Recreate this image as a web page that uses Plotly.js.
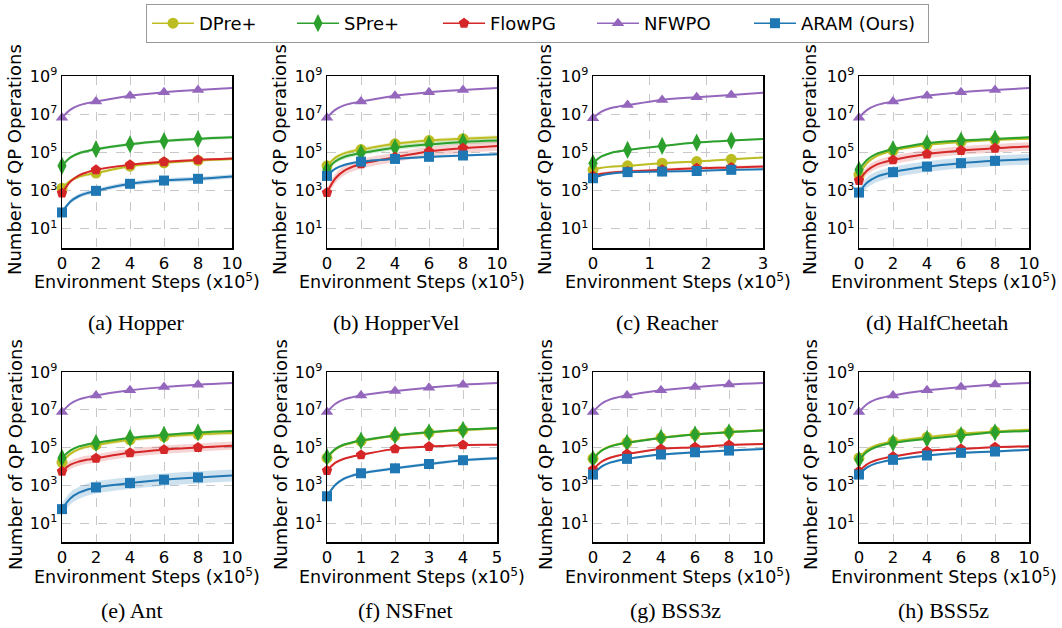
<!DOCTYPE html>
<html><head><meta charset="utf-8">
<script src="https://cdn.plot.ly/plotly-3.0.1.min.js"></script>
<style>body{margin:0;background:#fff}</style>
</head><body><div id="chart" style="width:1062px;height:628px"></div>
<script>
// ---------- series definitions ----------
const seriesNames = ['DPre+', 'SPre+', 'FlowPG', 'NFWPO', 'ARAM (Ours)'];
const seriesColors = ['#bcbd22', '#2ca02c', '#d62728', '#9467bd', '#1f77b4'];
const seriesFills = ['rgba(188,189,34,0.22)', 'rgba(44,160,44,0.22)', 'rgba(214,39,40,0.2)', 'rgba(148,103,189,0.2)', 'rgba(31,119,180,0.22)'];
const seriesSymbols = ['circle', 'diamond-tall', 'pentagon', 'triangle-up', 'square'];
const seriesSizes = [11, 13, 11, 11, 10];
const legendEntryWidths = [88, 89, 97, 100, 122];

// ---------- x sample positions (x1e5 environment steps) ----------
const xSteps10 = [0, 0.5, 1, 1.5, 2, 4, 6, 8, 10];
const xStepsReacher = [0, 0.15, 0.3, 0.46, 0.61, 1.22, 1.83, 2.44, 3];
const xStepsNSF = [0, 0.25, 0.5, 0.75, 1, 2, 3, 4, 5];
const markerIdx = [0, 4, 5, 6, 7];
const xTicks10 = [0, 2, 4, 6, 8, 10];
const xTicksReacher = [0, 1, 2, 3];
const xTicksNSF = [0, 1, 2, 3, 4, 5];
const yTickVals = [1e1, 1e3, 1e5, 1e7, 1e9];
const yTickText = ['10<sup>1</sup>', '10<sup>3</sup>', '10<sup>5</sup>', '10<sup>7</sup>', '10<sup>9</sup>'];

// ---------- values: log10(number of QP operations), order DPre+, SPre+, FlowPG, NFWPO, ARAM ----------
const logHopper = [
  [3.13, 3.53, 3.73, 3.84, 3.92, 4.28, 4.46, 4.58, 4.66],
  [4.30, 4.74, 4.96, 5.08, 5.17, 5.43, 5.60, 5.71, 5.79],
  [2.87, 3.48, 3.80, 3.97, 4.09, 4.35, 4.51, 4.61, 4.68],
  [6.82, 7.24, 7.46, 7.58, 7.66, 7.97, 8.15, 8.27, 8.37],
  [1.86, 2.43, 2.72, 2.88, 2.99, 3.36, 3.53, 3.62, 3.74]
];
const logHopperVel = [
  [4.30, 4.73, 4.95, 5.07, 5.15, 5.45, 5.62, 5.72, 5.80],
  [4.10, 4.54, 4.76, 4.88, 4.97, 5.25, 5.42, 5.55, 5.62],
  [2.90, 3.65, 4.04, 4.25, 4.40, 4.75, 5.05, 5.22, 5.34],
  [6.82, 7.24, 7.46, 7.58, 7.66, 7.97, 8.15, 8.27, 8.37],
  [3.77, 4.15, 4.34, 4.45, 4.52, 4.66, 4.77, 4.84, 4.91]
];
const logReacher = [
  [4.09, 4.20, 4.25, 4.28, 4.30, 4.44, 4.52, 4.64, 4.73],
  [4.44, 4.79, 4.96, 5.06, 5.13, 5.34, 5.52, 5.62, 5.71],
  [3.77, 3.89, 3.94, 3.98, 4.00, 4.09, 4.17, 4.21, 4.26],
  [6.79, 7.14, 7.31, 7.41, 7.48, 7.75, 7.89, 8.01, 8.13],
  [3.65, 3.81, 3.89, 3.94, 3.97, 4.00, 4.03, 4.09, 4.12]
];
const logHalfCheetah = [
  [3.83, 4.47, 4.80, 4.97, 5.10, 5.39, 5.55, 5.66, 5.72],
  [4.09, 4.63, 4.91, 5.06, 5.17, 5.48, 5.62, 5.71, 5.79],
  [3.53, 4.07, 4.35, 4.50, 4.61, 4.92, 5.10, 5.22, 5.31],
  [6.82, 7.24, 7.46, 7.58, 7.66, 7.97, 8.15, 8.27, 8.37],
  [2.90, 3.44, 3.71, 3.86, 3.97, 4.26, 4.44, 4.56, 4.64]
];
const logAnt = [
  [4.22, 4.68, 4.92, 5.05, 5.14, 5.41, 5.58, 5.70, 5.77],
  [4.45, 4.85, 5.06, 5.17, 5.25, 5.51, 5.67, 5.80, 5.88],
  [3.74, 4.09, 4.26, 4.36, 4.43, 4.72, 4.89, 5.00, 5.10],
  [6.88, 7.32, 7.55, 7.67, 7.76, 8.03, 8.20, 8.33, 8.42],
  [1.74, 2.32, 2.61, 2.78, 2.89, 3.12, 3.30, 3.42, 3.52]
];
const logNSFnet = [
  [4.45, 4.90, 5.13, 5.25, 5.34, 5.62, 5.79, 5.92, 6.01],
  [4.49, 4.93, 5.16, 5.28, 5.37, 5.64, 5.81, 5.94, 6.03],
  [3.78, 4.20, 4.41, 4.53, 4.61, 4.93, 5.05, 5.14, 5.15],
  [6.88, 7.32, 7.55, 7.67, 7.76, 7.99, 8.17, 8.33, 8.42],
  [2.42, 3.03, 3.35, 3.52, 3.64, 3.90, 4.13, 4.33, 4.43]
];
const logBSS3z = [
  [4.42, 4.85, 5.07, 5.19, 5.27, 5.52, 5.70, 5.82, 5.91],
  [4.40, 4.83, 5.05, 5.17, 5.25, 5.51, 5.69, 5.81, 5.90],
  [3.83, 4.25, 4.46, 4.58, 4.66, 4.93, 5.02, 5.14, 5.19],
  [6.88, 7.32, 7.55, 7.67, 7.76, 8.03, 8.20, 8.34, 8.42],
  [3.57, 3.99, 4.20, 4.32, 4.40, 4.63, 4.75, 4.84, 4.93]
];
const logBSS5z = [
  [4.45, 4.89, 5.11, 5.23, 5.32, 5.55, 5.73, 5.85, 5.94],
  [4.35, 4.80, 5.03, 5.16, 5.25, 5.46, 5.64, 5.81, 5.87],
  [3.74, 4.13, 4.33, 4.44, 4.52, 4.81, 4.93, 5.02, 5.07],
  [6.88, 7.32, 7.55, 7.67, 7.76, 8.03, 8.20, 8.34, 8.42],
  [3.57, 3.96, 4.16, 4.27, 4.35, 4.58, 4.72, 4.79, 4.88]
];

// shaded band half-width (decades), order DPre+, SPre+, FlowPG, NFWPO, ARAM
const bandHopper = [0.08, 0.08, 0.06, 0.02, 0.12];
const bandHopperVel = [0.10, 0.12, 0.25, 0.02, 0.06];
const bandReacher = [0.04, 0.04, 0.08, 0.02, 0.04];
const bandHalfCheetah = [0.06, 0.06, 0.22, 0.02, 0.28];
const bandAnt = [0.10, 0.06, 0.22, 0.02, 0.32];
const bandNSFnet = [0.05, 0.05, 0.04, 0.02, 0.08];
const bandBSS3z = [0.05, 0.05, 0.05, 0.02, 0.06];
const bandBSS5z = [0.07, 0.05, 0.05, 0.02, 0.06];

const panelCaptions = ['(a) Hopper', '(b) HopperVel', '(c) Reacher', '(d) HalfCheetah',
                       '(e) Ant', '(f) NSFnet', '(g) BSS3z', '(h) BSS5z'];
const panelData = [logHopper, logHopperVel, logReacher, logHalfCheetah, logAnt, logNSFnet, logBSS3z, logBSS5z];
const panelBands = [bandHopper, bandHopperVel, bandReacher, bandHalfCheetah, bandAnt, bandNSFnet, bandBSS3z, bandBSS5z];
const panelX = [xSteps10, xSteps10, xStepsReacher, xSteps10, xSteps10, xStepsNSF, xSteps10, xSteps10];
const panelTicks = [xTicks10, xTicks10, xTicksReacher, xTicks10, xTicks10, xTicksNSF, xTicks10, xTicks10];
const panelXMax = [10, 10, 3, 10, 10, 5, 10, 10];

// ---------- layout geometry (pixels) ----------
const W = 1062, H = 628;
const colPx = [[62, 232], [327, 497], [593, 763], [859, 1029]];
const rowPx = [[76, 248], [372, 542]];
const yTitlePx = [15, 280, 545, 810];
const xTitleY = [281, 576];
const captionX = [136, 396, 667, 937, 132, 405, 675, 943];
const captionY = [322, 610];

const FONT = 'DejaVu Sans, sans-serif';
const traces = [];
const layout = {
  width: W, height: H, margin: {l: 0, r: 0, t: 0, b: 0},
  paper_bgcolor: '#fff', plot_bgcolor: '#fff',
  font: {family: FONT, size: 16, color: '#000'},
  showlegend: true,
  legend: {
    orientation: 'h', x: 146 / W, y: 1 - 4 / H, xanchor: 'left', yanchor: 'top',
    traceorder: 'normal',
    font: {family: FONT, size: 18, color: '#000'},
    bordercolor: '#999', borderwidth: 1, bgcolor: '#fff',
    itemwidth: 42, tracegroupgap: 0
  },
  annotations: [], shapes: []
};
const px2x = p => p / W;
const px2y = p => 1 - p / H;

for (let p = 0; p < 8; p++) {
  const row = Math.floor(p / 4), col = p % 4;
  const xa = p === 0 ? 'x' : 'x' + (p + 1);
  const ya = p === 0 ? 'y' : 'y' + (p + 1);
  const xs = panelX[p], data = panelData[p], band = panelBands[p];
  layout[p === 0 ? 'xaxis' : 'xaxis' + (p + 1)] = {
    domain: [px2x(colPx[col][0]), px2x(colPx[col][1])], anchor: ya,
    range: [0, panelXMax[p]], tickvals: panelTicks[p], ticks: '',
    showgrid: true, gridcolor: '#c8c8c8', griddash: 'dash', gridwidth: 1,
    showline: true, linecolor: '#000', linewidth: 1.5, mirror: true, zeroline: false,
    tickfont: {family: FONT, size: 16.5}, fixedrange: true
  };
  layout[p === 0 ? 'yaxis' : 'yaxis' + (p + 1)] = {
    domain: [px2y(rowPx[row][1]), px2y(rowPx[row][0])], anchor: xa,
    type: 'log', range: [0, 9], tickvals: yTickVals, ticktext: yTickText, ticks: '',
    showgrid: true, gridcolor: '#c8c8c8', griddash: 'dash', gridwidth: 1,
    showline: true, linecolor: '#000', linewidth: 1.5, mirror: true, zeroline: false,
    tickfont: {family: FONT, size: 16}, fixedrange: true
  };
  // bands
  for (let s = 0; s < 5; s++) {
    traces.push({x: xs, y: data[s].map(v => Math.pow(10, v - band[s])), xaxis: xa, yaxis: ya,
      mode: 'lines', line: {width: 0, shape: 'spline'}, hoverinfo: 'skip', showlegend: false});
    traces.push({x: xs, y: data[s].map(v => Math.pow(10, v + band[s])), xaxis: xa, yaxis: ya,
      mode: 'lines', line: {width: 0, shape: 'spline'}, fill: 'tonexty', fillcolor: seriesFills[s],
      hoverinfo: 'skip', showlegend: false});
  }
  // lines + markers
  for (let s = 0; s < 5; s++) {
    traces.push({x: xs, y: data[s].map(v => Math.pow(10, v)), xaxis: xa, yaxis: ya,
      mode: 'lines', line: {color: seriesColors[s], width: 2, shape: 'spline'},
      name: seriesNames[s], showlegend: false});
    traces.push({x: markerIdx.map(i => xs[i]), y: markerIdx.map(i => Math.pow(10, data[s][i])),
      xaxis: xa, yaxis: ya, mode: 'markers', cliponaxis: false,
      marker: {symbol: seriesSymbols[s], size: seriesSizes[s], color: seriesColors[s], line: {width: 0}},
      name: seriesNames[s], showlegend: false});
  }
  // axis titles and caption
  const cx = (colPx[col][0] + colPx[col][1]) / 2;
  const cy = (rowPx[row][0] + rowPx[row][1]) / 2;
  layout.annotations.push({xref: 'paper', yref: 'paper', x: px2x(cx), y: px2y(xTitleY[row]),
    xanchor: 'center', yanchor: 'middle', showarrow: false,
    text: 'Environment Steps (x10<sup>5</sup>)', font: {family: FONT, size: 17.5}});
  layout.annotations.push({xref: 'paper', yref: 'paper', x: px2x(yTitlePx[col]), y: px2y(cy - 2),
    xanchor: 'center', yanchor: 'middle', showarrow: false, textangle: -90,
    text: 'Number of QP Operations', font: {family: FONT, size: 18}});
  layout.annotations.push({xref: 'paper', yref: 'paper', x: px2x(captionX[p]), y: px2y(captionY[row]),
    xanchor: 'center', yanchor: 'middle', showarrow: false,
    text: panelCaptions[p], font: {family: 'Liberation Serif, serif', size: 22}});
}
// legend entries
for (let s = 0; s < 5; s++) {
  traces.push({x: [null], y: [null], xaxis: 'x', yaxis: 'y', mode: 'lines+markers',
    name: seriesNames[s], line: {color: seriesColors[s], width: 1.5},
    legendwidth: legendEntryWidths[s],
    marker: {symbol: seriesSymbols[s], size: seriesSizes[s], color: seriesColors[s]}, showlegend: true});
}
Plotly.newPlot('chart', traces, layout, {displayModeBar: false, staticPlot: true});
</script></body></html>
